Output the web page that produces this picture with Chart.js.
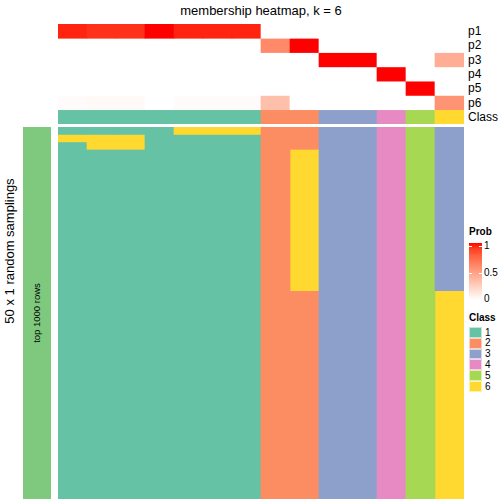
<!DOCTYPE html>
<html>
<head>
<meta charset="utf-8">
<script src="https://cdn.jsdelivr.net/npm/chart.js@4"></script>
<style>
body { margin: 0; width: 504px; height: 504px; position: relative; background: #fff; overflow: hidden;
       font-family: "Liberation Sans", Arial, sans-serif; color: #000; }
.abs { position: absolute; white-space: nowrap; }
canvas { position: absolute; }
</style>
</head>
<body>
<div class="abs" style="left:161px;width:200px;top:3px;text-align:center;font-size:13px">membership heatmap, k = 6</div>
<canvas id="probChart" width="406" height="100" style="left:58px;top:24px"></canvas>
<canvas id="samplingChart" width="406" height="372" style="left:58px;top:127px"></canvas>
<div class="abs" style="left:23px;top:127px;width:28px;height:372px;background:#7FC97F"></div>
<div id="labels"></div>
<div id="legend"></div>

<script>
// samples (columns), in the order shown
const sampleIds = ['s1','s2','s3','s4','s5','s6','s7','s8','s9','s10','s11','s12','s13','s14'];

// membership probabilities per class
const p1 = [0.96, 0.93, 0.93, 1.00, 0.96, 0.96, 0.96, 0,    0,    0, 0, 0, 0, 0];
const p2 = [0,    0,    0,    0,    0,    0,    0,    0.60, 1.00, 0, 0, 0, 0, 0];
const p3 = [0,    0,    0,    0,    0,    0,    0,    0,    0,    1, 1, 0, 0, 0.42];
const p4 = [0,    0,    0,    0,    0,    0,    0,    0,    0,    0, 0, 1, 0, 0];
const p5 = [0,    0,    0,    0,    0,    0,    0,    0,    0,    0, 0, 0, 1, 0];
const p6 = [0.02, 0.03, 0.03, 0,    0.02, 0.02, 0.02, 0.33, 0,    0, 0, 0, 0, 0.55];
const probRowNames = ['p1', 'p2', 'p3', 'p4', 'p5', 'p6'];

// consensus class per sample
const consensusClass = [1, 1, 1, 1, 1, 1, 1, 2, 2, 3, 3, 4, 5, 6];

// class of each of the 50 random samplings, top to bottom, as [class, number of rows]
const samplingRuns = [
  [[1, 1], [6, 1], [1, 48]],
  [[1, 1], [6, 2], [1, 47]],
  [[1, 1], [6, 2], [1, 47]],
  [[1, 50]],
  [[6, 1], [1, 49]],
  [[6, 1], [1, 49]],
  [[6, 1], [1, 49]],
  [[2, 50]],
  [[2, 3], [6, 19], [2, 28]],
  [[3, 50]],
  [[3, 50]],
  [[4, 50]],
  [[5, 50]],
  [[3, 22], [6, 28]]
];
const nSamplings = 50;

const classColors = { 1: '#66C2A5', 2: '#FC8D62', 3: '#8DA0CB', 4: '#E78AC3', 5: '#A6D854', 6: '#FFD92F' };

// white -> red in Lab space, like colorRamp2
function probColor(v) {
  const L = 100 + (53.2408 - 100) * v, A = 80.0925 * v, B = 67.2032 * v;
  const fy = (L + 16) / 116, fx = fy + A / 500, fz = fy - B / 200;
  const f = t => t > 0.206897 ? t * t * t : (t - 16 / 116) / 7.787;
  const X = 0.95047 * f(fx), Y = f(fy), Z = 1.08883 * f(fz);
  const lin = [3.2406 * X - 1.5372 * Y - 0.4986 * Z,
               -0.9689 * X + 1.8758 * Y + 0.0415 * Z,
               0.0557 * X - 0.2040 * Y + 1.0570 * Z];
  const c = lin.map(u => {
    u = Math.min(1, Math.max(0, u));
    const s = u <= 0.0031308 ? 12.92 * u : 1.055 * Math.pow(u, 1 / 2.4) - 0.055;
    return Math.round(s * 255);
  });
  return `rgb(${c[0]},${c[1]},${c[2]})`;
}

const cellStyle = { grouped: false, barPercentage: 1, categoryPercentage: 1, borderWidth: 0 };

function heatChart(id, nRows, datasets) {
  return new Chart(document.getElementById(id), {
    type: 'bar',
    data: { labels: sampleIds, datasets: datasets },
    options: {
      responsive: false,
      animation: false,
      events: [],
      layout: { padding: 0 },
      plugins: { legend: { display: false }, tooltip: { enabled: false } },
      scales: {
        x: { display: false, offset: true },
        y: { display: false, min: 0, max: nRows, reverse: true }
      }
    }
  });
}

// top annotation: probabilities and class
const probRows = [p1, p2, p3, p4, p5, p6];
const topSets = probRows.map((vals, r) => Object.assign({
  data: vals.map(() => [r, r + 1]),
  backgroundColor: vals.map(probColor)
}, cellStyle));
topSets.push(Object.assign({
  data: consensusClass.map(() => [6, 7]),
  backgroundColor: consensusClass.map(k => classColors[k])
}, cellStyle));
heatChart('probChart', 7, topSets);

// main body: class per sampling, one bar per run
const lowSets = [];
for (let k = 0; k < 3; k++) {
  const data = [], colors = [];
  samplingRuns.forEach(runs => {
    let start = 0;
    for (let j = 0; j < k && j < runs.length; j++) start += runs[j][1];
    if (k < runs.length) {
      data.push([start, start + runs[k][1]]);
      colors.push(classColors[runs[k][0]]);
    } else {
      data.push(null);
      colors.push('#fff');
    }
  });
  lowSets.push(Object.assign({ data: data, backgroundColor: colors }, cellStyle));
}
heatChart('samplingChart', nSamplings, lowSets);

// row names and side titles
let html = '';
probRowNames.concat(['Class']).forEach((name, i) => {
  const cy = 24 + (i + 0.5) * 100 / 7;
  html += `<div class="abs" style="left:468px;top:${cy - 7}px;font-size:12px;line-height:14px">${name}</div>`;
});
html += `<div class="abs" style="left:${10 - 90}px;top:${251 - 8}px;width:180px;height:16px;line-height:16px;text-align:center;font-size:13px;transform:rotate(-90deg)">50 x 1 random samplings</div>`;
html += `<div class="abs" style="left:${37 - 50}px;top:${313 - 6}px;width:100px;height:12px;line-height:12px;text-align:center;font-size:9.5px;transform:rotate(-90deg)">top 1000 rows</div>`;
document.getElementById('labels').innerHTML = html;

// legends
const stops = [];
for (let i = 0; i <= 10; i++) stops.push(`${probColor(1 - i / 10)} ${i * 10}%`);
let lg = '';
lg += `<div class="abs" style="left:469px;top:226px;font-size:10px;font-weight:bold">Prob</div>`;
lg += `<div class="abs" style="left:469px;top:243px;width:13px;height:57px;background:linear-gradient(to bottom, ${stops.join(',')})"></div>`;
[[1, 246], [0.5, 273], [0, 299]].forEach(([t, y]) => {
  lg += `<div class="abs" style="left:469px;top:${y}px;width:3px;height:1px;background:#fff"></div>`;
  lg += `<div class="abs" style="left:479px;top:${y}px;width:3px;height:1px;background:#fff"></div>`;
  lg += `<div class="abs" style="left:484px;top:${y - 6}px;font-size:10px;line-height:12px">${t}</div>`;
});
lg += `<div class="abs" style="left:469px;top:312px;font-size:10px;font-weight:bold">Class</div>`;
Object.keys(classColors).forEach((k, i) => {
  const y = 327 + i * 10.8;
  lg += `<div class="abs" style="left:469px;top:${y}px;width:13px;height:10.8px;box-sizing:border-box;border:1px solid rgba(255,255,255,0.6);background:${classColors[k]}"></div>`;
  lg += `<div class="abs" style="left:485px;top:${y - 0.5}px;font-size:10px;line-height:12px">${k}</div>`;
});
document.getElementById('legend').innerHTML = lg;
</script>
</body>
</html>
